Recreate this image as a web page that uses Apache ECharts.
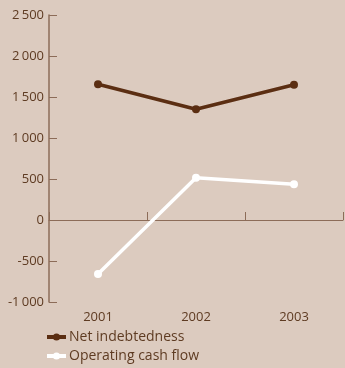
<!DOCTYPE html>
<html>
<head>
<meta charset="utf-8">
<script src="https://cdn.jsdelivr.net/npm/echarts@6/dist/echarts.min.js"></script>
<style>
  html, body { margin: 0; padding: 0; background: #dccbbf; }
  #chart { width: 345px; height: 368px; }
</style>
</head>
<body>
<div id="chart"></div>
<script>
// Years on the category axis
const years = ['2001', '2002', '2003'];
// Series values (in millions)
const netIndebtedness = [1655, 1350, 1650];
const operatingCashFlow = [-660, 515, 435];
// Value-axis range
const yMin = -1000;
const yMax = 2500;
const yStep = 500;

const textColor = '#5e3b22';
const axisColor = '#8c6c58';
const brown = '#5b2e12';
const white = '#ffffff';
const font = '"Open Sans", "Noto Sans", sans-serif';

// Thousands with a thin gap: 2 500
function fmt(v) {
  const s = String(Math.abs(v));
  const g = s.length > 3 ? s.slice(0, s.length - 3) + '\u2009' + s.slice(-3) : s;
  return (v < 0 ? '-' : '') + g;
}

const chart = echarts.init(document.getElementById('chart'), null, { renderer: 'canvas' });
chart.setOption({
  backgroundColor: '#dccbbf',
  animation: false,
  grid: { left: 49, right: 2, top: 15, bottom: 66, containLabel: false },
  xAxis: [
    {
      type: 'category',
      data: years,
      boundaryGap: true,
      axisLine: { onZero: true, lineStyle: { color: axisColor, width: 1 } },
      axisTick: { show: true, inside: true, length: 8, lineStyle: { color: axisColor } },
      axisLabel: { show: false }
    },
    {
      type: 'category',
      data: years,
      position: 'bottom',
      boundaryGap: true,
      axisLine: { show: false },
      axisTick: { show: false },
      axisLabel: { color: textColor, fontFamily: font, fontSize: 13, margin: 9 }
    }
  ],
  yAxis: {
    type: 'value',
    min: yMin,
    max: yMax,
    interval: yStep,
    axisLine: { show: true, lineStyle: { color: axisColor, width: 1.5 } },
    axisTick: { show: true, inside: true, length: 8, lineStyle: { color: axisColor } },
    splitLine: { show: false },
    axisLabel: { color: textColor, fontFamily: font, fontSize: 13, margin: 5, formatter: fmt }
  },
  legend: {
    orient: 'vertical',
    left: 45,
    top: 329,
    padding: 0,
    height: 60,
    itemWidth: 19,
    itemHeight: 9,
    itemGap: 3,
    lineStyle: { width: 4 },
    textStyle: { color: textColor, fontFamily: font, fontSize: 14, lineHeight: 16, padding: [0, 0, 0, -2] },
    data: ['Net indebtedness', 'Operating cash flow']
  },
  series: [
    {
      name: 'Net indebtedness',
      type: 'line',
      data: netIndebtedness,
      color: brown,
      symbol: 'circle',
      symbolSize: 8,
      lineStyle: { width: 3.5, color: brown },
      itemStyle: { color: brown }
    },
    {
      name: 'Operating cash flow',
      type: 'line',
      data: operatingCashFlow,
      color: white,
      symbol: 'circle',
      symbolSize: 8,
      lineStyle: { width: 3.5, color: white },
      itemStyle: { color: white }
    }
  ]
});
</script>
</body>
</html>
